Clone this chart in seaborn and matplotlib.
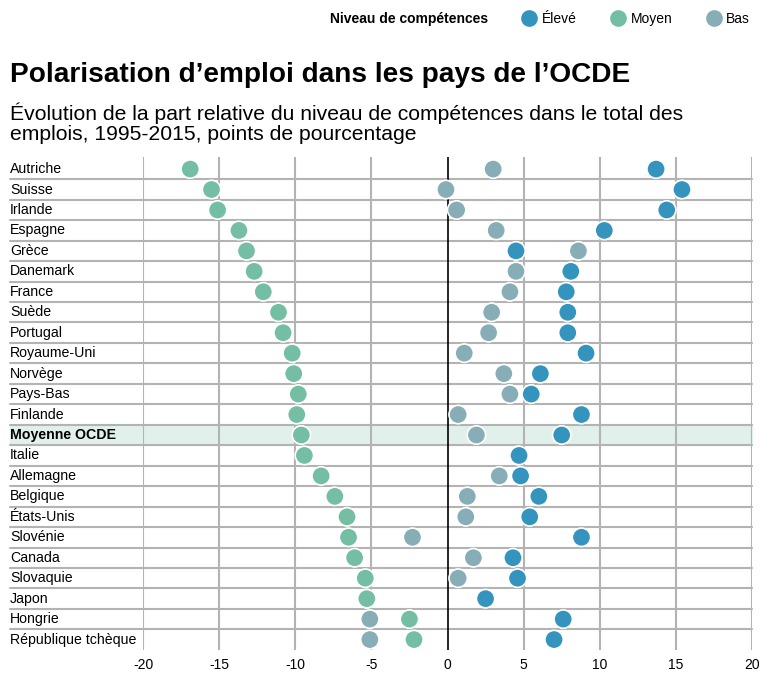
import pandas as pd
import matplotlib.pyplot as plt
import seaborn as sns
from matplotlib.transforms import blended_transform_factory

# Data (percentage points, 1995-2015)
pays = ["Autriche", "Suisse", "Irlande", "Espagne", "Grèce", "Danemark", "France",
        "Suède", "Portugal", "Royaume-Uni", "Norvège", "Pays-Bas", "Finlande",
        "Moyenne OCDE", "Italie", "Allemagne", "Belgique", "États-Unis", "Slovénie",
        "Canada", "Slovaquie", "Japon", "Hongrie", "République tchèque"]
eleve = [13.7, 15.4, 14.4, 10.3, 4.5, 8.1, 7.8, 7.9, 7.9, 9.1, 6.1, 5.5, 8.8,
         7.5, 4.7, 4.8, 6.0, 5.4, 8.8, 4.3, 4.6, 2.5, 7.6, 7.0]
moyen = [-16.9, -15.5, -15.1, -13.7, -13.2, -12.7, -12.1, -11.1, -10.8, -10.2, -10.1, -9.8, -9.9,
         -9.6, -9.4, -8.3, -7.4, -6.6, -6.5, -6.1, -5.4, -5.3, -2.5, -2.2]
bas = [3.0, -0.1, 0.6, 3.2, 8.6, 4.5, 4.1, 2.9, 2.7, 1.1, 3.7, 4.1, 0.7,
       1.9, 4.6, 3.4, 1.3, 1.2, -2.3, 1.7, 0.7, -5.3, -5.1, -5.1]

niveaux = ["Élevé", "Moyen", "Bas"]
couleurs = {"Élevé": "#3494be", "Moyen": "#74bfa4", "Bas": "#87adb7"}

# long format, Bas drawn first so Élevé sits on top
df = pd.concat([
    pd.DataFrame({"pays": pays, "valeur": bas, "niveau": "Bas"}),
    pd.DataFrame({"pays": pays, "valeur": moyen, "niveau": "Moyen"}),
    pd.DataFrame({"pays": pays, "valeur": eleve, "niveau": "Élevé"}),
], ignore_index=True)
df["rang"] = df["pays"].map({p: i for i, p in enumerate(pays)})

sns.set_style("white")
plt.rcParams["font.family"] = ["Liberation Sans", "DejaVu Sans"]
plt.rcParams["text.color"] = "black"
plt.rcParams["xtick.color"] = "black"

fig = plt.figure(figsize=(7.6, 6.73), dpi=100)
ax = fig.add_axes([143 / 760, 1 - 650 / 673, (752 - 143) / 760, (650 - 157) / 673])

grid_col = "#b3b3b3"
xmin_lab = (10 - 143) / (752 - 143)

# highlighted OECD average row
i_moy = pays.index("Moyenne OCDE")
band = ax.axhspan(i_moy - 0.5, i_moy + 0.5, xmin=xmin_lab, xmax=1, color="#e2f0eb", zorder=0)
band.set_clip_on(False)

# row separators
for i in range(len(pays) - 1):
    ax.axhline(i + 0.5, xmin=xmin_lab, xmax=1, color=grid_col, lw=1.5, zorder=1, clip_on=False)

# vertical grid
for v in range(-20, 25, 5):
    if v == 0:
        ax.axvline(0, color="black", lw=1.2, zorder=2)
    else:
        ax.axvline(v, color=grid_col, lw=1.5, zorder=1)

sns.scatterplot(data=df, x="valeur", y="rang", hue="niveau", hue_order=niveaux,
                palette=couleurs, s=175, edgecolor="white", linewidth=1.2,
                zorder=3, ax=ax, legend=True)

ax.set_xlim(-20, 20)
ax.set_ylim(len(pays) - 0.49, -0.59)
ax.set_xticks(range(-20, 25, 5))
ax.set_xticklabels([str(v) for v in range(-20, 25, 5)], fontsize=10)
ax.tick_params(axis="x", length=0, pad=6)
ax.set_yticks([])
ax.set_xlabel("")
ax.set_ylabel("")
for s in ax.spines.values():
    s.set_visible(False)

# country labels, left aligned
trans = blended_transform_factory(fig.transFigure, ax.transData)
for i, p in enumerate(pays):
    ax.text(10 / 760, i, p, transform=trans, ha="left", va="center", fontsize=10.2,
            fontweight="bold" if p == "Moyenne OCDE" else "normal", color="black")

# legend on top
handles, labels = ax.get_legend_handles_labels()
ax.get_legend().remove()
fig.text(330 / 760, 1 - 19 / 673, "Niveau de compétences", fontsize=10, fontweight="bold",
         va="center", ha="left")
leg = fig.legend(handles, labels, loc="center left", bbox_to_anchor=(515 / 760, 1 - 19 / 673),
                 ncol=3, frameon=False, fontsize=10, handletextpad=-0.1, columnspacing=2.0,
                 borderaxespad=0, borderpad=0)

fig.text(10 / 760, 1 - 75 / 673, "Polarisation d’emploi dans les pays de l’OCDE",
         fontsize=20.2, fontweight="bold", va="center", ha="left")
fig.text(10 / 760, 1 - 113 / 673,
         "Évolution de la part relative du niveau de compétences dans le total des",
         fontsize=15.2, va="center", ha="left")
fig.text(10 / 760, 1 - 135 / 673, "emplois, 1995-2015, points de pourcentage",
         fontsize=15.2, va="center", ha="left")

fig.savefig("out.png", dpi=100)
